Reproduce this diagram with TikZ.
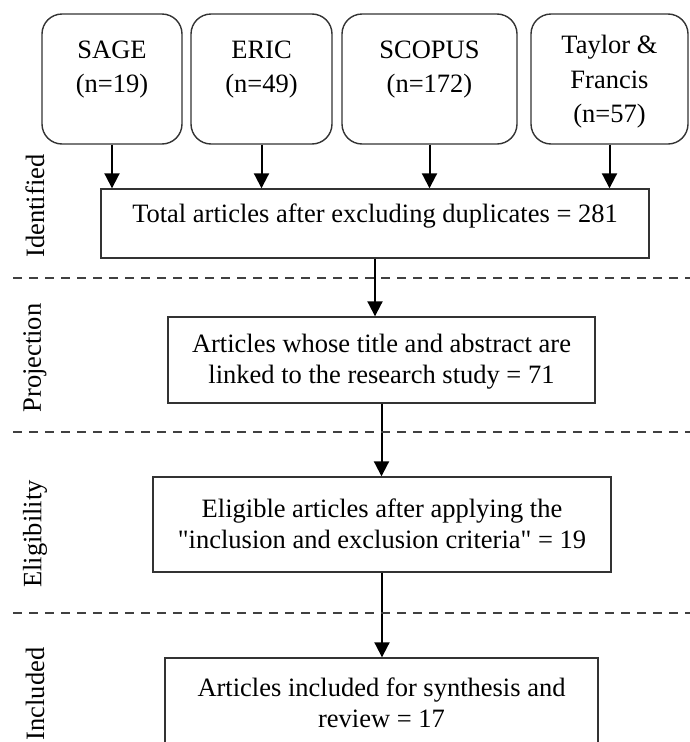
\documentclass[tikz,border=0pt]{standalone}
\usepackage{fontspec}
\setmainfont{Liberation Serif}[Ligatures=TeXOff]
\usetikzlibrary{arrows.meta}
\begin{document}
\begin{tikzpicture}[x=1pt,y=-1pt,
  srcbox/.style={draw=black!80, line width=1.4pt, rounded corners=20pt, inner sep=0pt},
  flowbox/.style={draw=black!80, line width=1.4pt, inner sep=0pt},
  txt/.style={align=center, inner sep=0pt, font=\fontsize{26.5}{31}\selectfont},
  toptxt/.style={align=center, inner sep=0pt, font=\fontsize{26.5}{34.5}\selectfont},
  phase/.style={rotate=90, inner sep=0pt, font=\fontsize{26.5}{31}\selectfont},
  arr/.style={line width=2pt, -{Triangle[length=15pt,width=15pt]}},
  sep/.style={line width=1.8pt, black!75, dash pattern=on 9pt off 7pt}]
\useasboundingbox (0,0) rectangle (690,742);
% source boxes
\node[srcbox, minimum width=140pt, minimum height=130pt] (sage) at (112,79) {};
\node[srcbox, minimum width=141pt, minimum height=130pt] (eric) at (261.5,79) {};
\node[srcbox, minimum width=175pt, minimum height=130pt] (scopus) at (429.5,79) {};
\node[srcbox, minimum width=157pt, minimum height=130pt] (taylor) at (609.5,79) {};
\node[toptxt] (sagetxt) at (112,69.5) {SAGE\\(n=19)};
\node[toptxt] (erictxt) at (261.5,69.5) {ERIC\\(n=49)};
\node[toptxt] (scopustxt) at (429.5,69.5) {SCOPUS\\(n=172)};
\node[toptxt] (taylortxt) at (609.5,82) {Taylor \&\\Francis\\(n=57)};
% flow boxes
\node[flowbox, minimum width=548pt, minimum height=69pt] (total) at (375,223.5) {};
\node[txt] (totaltxt) at (375,216) {Total articles after excluding duplicates = 281};
\node[flowbox, minimum width=427pt, minimum height=86pt] (proj) at (381.5,360) {};
\node[txt] (projtxt) at (381.5,362) {Articles whose title and abstract are\\linked to the research study = 71};
\node[flowbox, minimum width=458pt, minimum height=95pt] (elig) at (382,524.5) {};
\node[txt] (eligtxt) at (382,524) {Eligible articles after applying the\\"inclusion and exclusion criteria" = 19};
\node[flowbox, minimum width=433pt, minimum height=110pt] (incl) at (381.5,713) {};
\node[txt] (incltxt) at (381.5,702.5) {Articles included for synthesis and\\review = 17};
% arrows
\draw[arr] (sage.south) -- (sage.south |- total.north);
\draw[arr] (eric.south) -- (eric.south |- total.north);
\draw[arr] (scopus.south) -- (scopus.south |- total.north);
\draw[arr] (taylor.south) -- (taylor.south |- total.north);
\draw[arr] (total.south) -- (total.south |- proj.north);
\draw[arr] (proj.south) -- (proj.south |- elig.north);
\draw[arr] (elig.south) -- (elig.south |- incl.north);
% phase separators
\draw[sep] (13,278) -- (690,278);
\draw[sep] (13,432) -- (690,432);
\draw[sep] (13,613) -- (690,613);
% phase labels
\node[phase] (lid) at (35,206) {Identified};
\node[phase] (lpr) at (35,358) {Projection};
\node[phase] (lel) at (35,534) {Eligibility};
\node[phase] (lin) at (35,694) {Included};
\end{tikzpicture}
\end{document}
